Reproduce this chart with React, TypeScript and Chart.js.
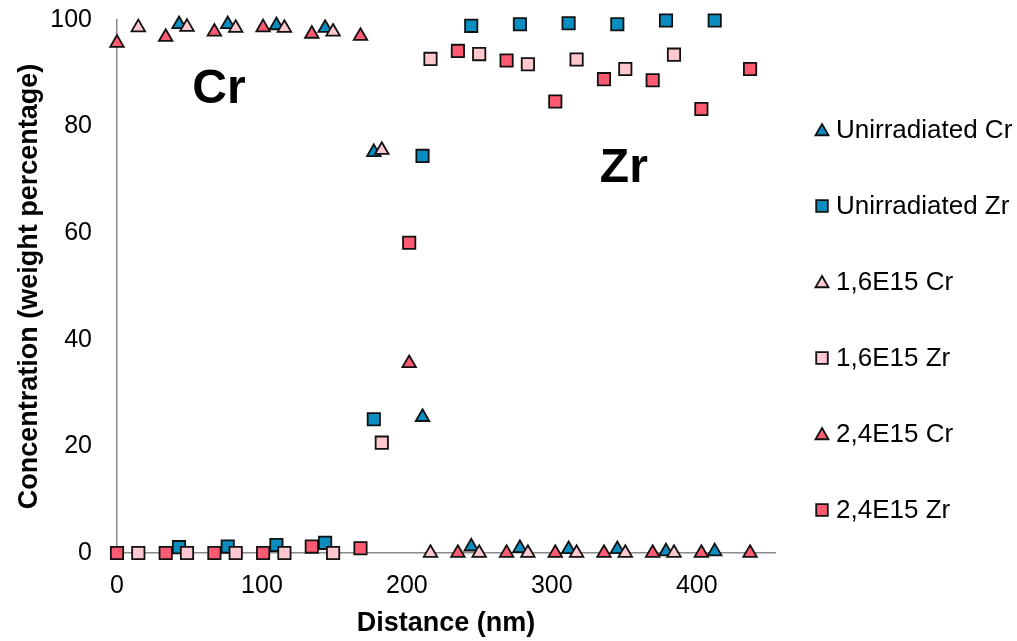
import React, { useEffect, useRef } from 'react';
import { Chart, registerables } from 'chart.js';

Chart.register(...registerables);

const FONT = '"Liberation Sans", Arial, Helvetica, sans-serif';

// ---- Data ----
const seriesLabels = ['Unirradiated Cr', 'Unirradiated Zr', '1,6E15 Cr', '1,6E15 Zr', '2,4E15 Cr', '2,4E15 Zr'];

const unirradiatedX = [42.8, 76.4, 110.0, 143.6, 177.2, 210.8, 244.4, 278.0, 311.6, 345.2, 378.8, 412.4];
const unirradiatedCr = [99.2, 99.2, 99.0, 98.5, 75.2, 25.5, 1.2, 0.9, 0.7, 0.7, 0.3, 0.3];
const unirradiatedZr = [1.1, 1.2, 1.5, 1.9, 25.1, 74.5, 98.9, 99.2, 99.4, 99.2, 99.9, 99.9];

const dose16X = [14.7, 48.3, 81.9, 115.5, 149.1, 182.7, 216.3, 249.9, 283.5, 317.1, 350.7, 384.3];
const dose16Cr = [98.6, 98.7, 98.5, 98.5, 97.8, 75.6, 0, 0, 0, 0, 0, 0];
const dose16Zr = [0, 0, 0, 0, 0, 20.7, 92.7, 93.6, 91.7, 92.6, 90.8, 93.5];

const dose24X = [0, 33.6, 67.2, 100.8, 134.4, 168.0, 201.6, 235.2, 268.8, 302.4, 336.0, 369.6, 403.2, 436.8];
const dose24Cr = [95.7, 96.8, 97.8, 98.6, 97.4, 97.0, 35.6, 0, 0, 0, 0, 0, 0, 0];
const dose24Zr = [0, 0, 0, 0, 1.2, 0.9, 58.2, 94.2, 92.4, 84.7, 88.9, 88.7, 83.3, 90.8];

const xTickStep = 100;
const yTickStep = 20;
const xMax = 454;
const yMax = 100;

// Text annotations: text, x value, y value (baseline)
const annotationTexts = ['Cr', 'Zr'];
const annotationX = [70.3, 349.7];
const annotationY = [84.4, 69.6];

// ---- Styles ----
const BLUE = '#0A8EC2';
const RED = '#FE5A72';
const PINK = '#FFC7D0';
const seriesColors = [BLUE, BLUE, PINK, PINK, RED, RED];
const seriesShapes = ['triangle', 'rect', 'triangle', 'rect', 'triangle', 'rect'];

const zip = (xs: number[], ys: number[]) => xs.map((x, i) => ({ x, y: ys[i] }));

const seriesData = [
  zip(unirradiatedX, unirradiatedCr),
  zip(unirradiatedX, unirradiatedZr),
  zip(dose16X, dose16Cr),
  zip(dose16X, dose16Zr),
  zip(dose24X, dose24Cr),
  zip(dose24X, dose24Zr),
];

function drawMarker(ctx: CanvasRenderingContext2D, shape: string, x: number, y: number, r: number) {
  ctx.beginPath();
  if (shape === 'rect') {
    const s = Math.SQRT1_2 * r;
    ctx.rect(x - s, y - s, 2 * s, 2 * s);
  } else {
    let rad = 0;
    ctx.moveTo(x + Math.sin(rad) * r, y - Math.cos(rad) * r);
    rad += (2 * Math.PI) / 3;
    ctx.lineTo(x + Math.sin(rad) * r, y - Math.cos(rad) * r);
    rad += (2 * Math.PI) / 3;
    ctx.lineTo(x + Math.sin(rad) * r, y - Math.cos(rad) * r);
    ctx.closePath();
  }
  ctx.fill();
  ctx.stroke();
}

const legendPlugin = {
  id: 'customLegend',
  afterDraw(chart: any) {
    const ctx = chart.ctx as CanvasRenderingContext2D;
    const datasets = chart.data.datasets;
    const x0 = 822;
    const yStart = 130;
    const step = 76;
    ctx.save();
    datasets.forEach((ds: any, i: number) => {
      const y = yStart + i * step;
      ctx.fillStyle = ds.backgroundColor;
      ctx.strokeStyle = '#111';
      ctx.lineWidth = 1.8;
      const shape = ds.pointStyle;
      drawMarker(ctx, shape, x0, shape === 'triangle' ? y + 1.5 : y, shape === 'triangle' ? 7.5 : 8.2);
      ctx.fillStyle = '#000';
      ctx.font = `26px ${FONT}`;
      ctx.textAlign = 'left';
      ctx.textBaseline = 'middle';
      ctx.fillText(ds.label, x0 + 14, y + 1);
    });
    ctx.restore();
  },
};

const textPlugin = {
  id: 'phaseLabels',
  afterDraw(chart: any) {
    const ctx = chart.ctx as CanvasRenderingContext2D;
    const xs = chart.scales.x;
    const ys = chart.scales.y;
    ctx.save();
    ctx.fillStyle = '#000';
    ctx.font = `bold 48px ${FONT}`;
    ctx.textAlign = 'center';
    ctx.textBaseline = 'alphabetic';
    annotationTexts.forEach((t, i) => {
      ctx.fillText(t, xs.getPixelForValue(annotationX[i]), ys.getPixelForValue(annotationY[i]));
    });
    ctx.restore();
  },
};

export default function App() {
  const canvasRef = useRef<HTMLCanvasElement>(null);

  useEffect(() => {
    const n = seriesLabels.length;
    const chart = new Chart(canvasRef.current as HTMLCanvasElement, {
      type: 'scatter',
      data: {
        datasets: seriesLabels.map((label, i) => ({
          label,
          data: seriesData[i],
          pointStyle: seriesShapes[i] as any,
          pointRadius: seriesShapes[i] === 'rect' ? 8.7 : 7.8,
          pointHoverRadius: seriesShapes[i] === 'rect' ? 8.7 : 7.8,
          backgroundColor: seriesColors[i],
          borderColor: '#111',
          borderWidth: 1.8,
          showLine: false,
          clip: false as any,
          order: n - 1 - i,
        })),
      },
      options: {
        animation: false,
        responsive: true,
        maintainAspectRatio: false,
        events: [],
        layout: { autoPadding: false, padding: { top: 0, right: 242, left: 0, bottom: 0 } },
        plugins: {
          legend: { display: false },
          tooltip: { enabled: false },
        },
        scales: {
          x: {
            type: 'linear',
            position: 'bottom',
            min: 0,
            max: xMax,
            grid: { display: false, drawTicks: false },
            border: { display: true, color: '#898989', width: 1.5 },
            ticks: {
              stepSize: xTickStep,
              includeBounds: false,
              color: '#000',
              padding: 18,
              font: { family: FONT, size: 25 },
            },
            title: {
              display: true,
              text: 'Distance (nm)',
              color: '#000',
              font: { family: FONT, size: 27, weight: 'bold' },
              padding: { top: 0, bottom: 1 },
            },
            afterFit: (scale: any) => {
              scale.height = 88;
              scale.paddingLeft = 0;
              scale.paddingRight = 0;
            },
          },
          y: {
            type: 'linear',
            min: 0,
            max: yMax,
            grid: { display: false, drawTicks: false },
            border: { display: true, color: '#898989', width: 1.5 },
            ticks: {
              stepSize: yTickStep,
              color: '#000',
              padding: 25,
              font: { family: FONT, size: 25 },
            },
            title: {
              display: true,
              text: 'Concentration (weight percentage)',
              color: '#000',
              font: { family: FONT, size: 27, weight: 'bold' },
              padding: { top: 13, bottom: 0 },
            },
            afterFit: (scale: any) => {
              scale.width = 117;
              scale.paddingTop = 20;
              scale.paddingBottom = 0;
            },
          },
        },
      },
      plugins: [legendPlugin, textPlugin],
    });
    return () => chart.destroy();
  }, []);

  return (
    <div style={{ position: 'fixed', left: 0, top: 0, width: 1017, height: 641, background: '#fff' }}>
      <canvas ref={canvasRef} />
    </div>
  );
}
